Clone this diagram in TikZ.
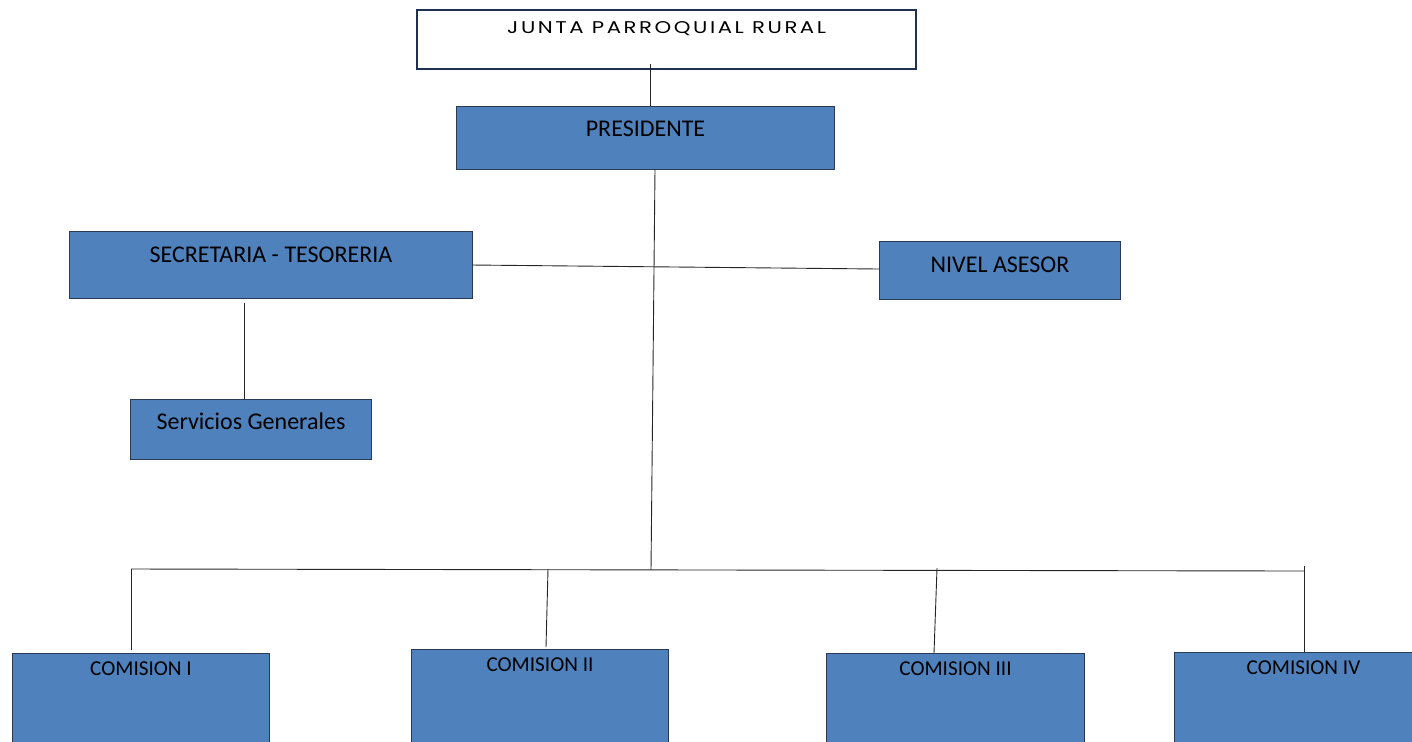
\documentclass[tikz,border=0pt]{standalone}
\usepackage{fontspec}
\setmainfont{Carlito}
\newfontfamily\gothic{Poppins}
\definecolor{boxblue}{HTML}{4F81BD}
\definecolor{boxedge}{HTML}{2A3A55}
\definecolor{navy}{HTML}{1F3050}
\begin{document}
\begin{tikzpicture}[x=0.5pt,y=-0.5pt,
  bx/.style={draw=boxedge,line width=0.5pt,fill=boxblue,inner sep=0pt,anchor=north west,
    font=\fontsize{12}{14}\selectfont,text=black},
  cbx/.style={bx,font=\fontsize{10.6}{12}\selectfont,minimum width=128.5pt,text height=11pt,text depth=39pt},
  conn/.style={draw=black!85,line width=0.45pt}]
\clip (0,0) rectangle (1412,741);
\useasboundingbox (0,0) rectangle (1412,741);
% boxes
\node[draw=navy,line width=1.1pt,fill=white,inner sep=0pt,anchor=north west,minimum width=249.5pt,
  text height=11.5pt,text depth=18pt,font=\gothic\fontsize{8.5}{10}\selectfont] (junta) at (416,9)
  {\scalebox{1.25}[1]{\addfontfeatures{LetterSpace=12}JUNTA PARROQUIAL RURAL}};
\node[bx,minimum width=189pt,text height=15pt,text depth=16.5pt] (pres) at (456,106) {PRESIDENTE};
\node[bx,minimum width=201.5pt,text height=15.5pt,text depth=18pt] (sec) at (69,231) {SECRETARIA - TESORERIA};
\node[bx,minimum width=120.5pt,text height=15.5pt,text depth=13.5pt] (niv) at (879,241) {NIVEL ASESOR};
\node[bx,minimum width=120.5pt,text height=15pt,text depth=15pt] (serv) at (130,399) {Servicios Generales};
\node[cbx] (c1) at (12,653) {COMISION I};
\node[cbx] (c2) at (411,649) {COMISION II};
\node[cbx,minimum width=129pt] (c3) at (826,653) {COMISION III};
\node[cbx,minimum width=129pt] (c4) at (1174,652) {COMISION IV};
% connector points
\coordinate (jt) at (650,64);
\coordinate (pb) at (655,169);
\coordinate (bus) at (651,570);
\coordinate (bL) at (131,569);
\coordinate (bR) at (1304,571);
\coordinate (s1) at (472,265);
\coordinate (n1) at (879,269);
\coordinate (st) at (244,303);
\coordinate (d2) at (548,569);
\coordinate (d3) at (937,568);
\coordinate (d4) at (1304,566);
% connectors
\draw[conn] (jt) -- (jt |- pres.north);
\draw[conn] (pb) -- (bus);
\draw[conn] (s1) -- (n1);
\draw[conn] (st) -- (st |- serv.north);
\draw[conn] (bL) -- (bR);
\draw[conn] (bL) -- (131,650);
\draw[conn] (d2) -- (546,647);
\draw[conn] (d3) -- (934,653);
\draw[conn] (d4) -- (1304,652);
\end{tikzpicture}
\end{document}
